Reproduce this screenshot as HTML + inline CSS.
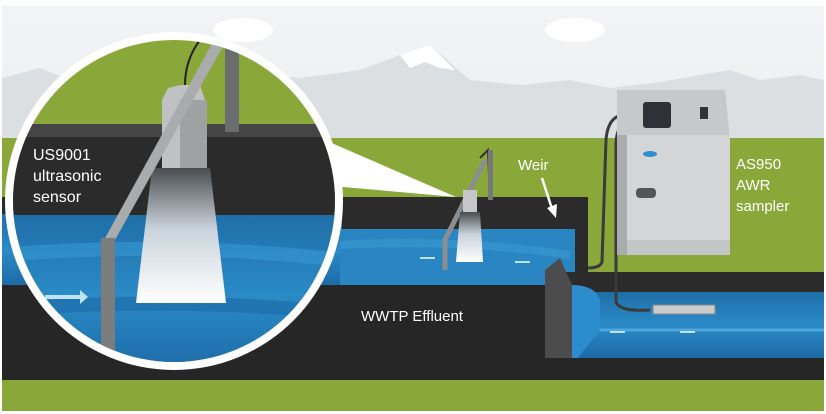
<!DOCTYPE html>
<html><head><meta charset="utf-8"><style>
html,body{margin:0;padding:0;background:#fff;}
svg{display:block;}
text{font-family:"Liberation Sans",sans-serif;fill:#fff;}
</style></head><body>
<svg width="826" height="414" viewBox="0 0 826 414" xmlns="http://www.w3.org/2000/svg">
<defs>
<linearGradient id="sky" x1="0" y1="0" x2="0" y2="1"><stop offset="0" stop-color="#f2f3f4"/><stop offset="1" stop-color="#e6e8ea"/></linearGradient>
<linearGradient id="beam" x1="0" y1="0" x2="0" y2="1"><stop offset="0" stop-color="#4a4c4e"/><stop offset="0.45" stop-color="#c9d3dc"/><stop offset="1" stop-color="#ffffff"/></linearGradient>
<linearGradient id="water" x1="0" y1="0" x2="0" y2="1"><stop offset="0" stop-color="#1f6ea8"/><stop offset="0.5" stop-color="#2a8bc6"/><stop offset="1" stop-color="#1c6aa6"/></linearGradient>
<clipPath id="circ"><circle cx="174" cy="201" r="161"/></clipPath>
</defs>
<rect x="0" y="0" width="826" height="414" fill="#fff"/>
<rect x="2" y="6" width="822" height="405" fill="url(#sky)"/>
<ellipse cx="243" cy="30" rx="30" ry="12" fill="#fff"/>
<ellipse cx="575" cy="30" rx="30" ry="12" fill="#fff"/>
<path d="M2 78 L40 68 L70 80 L120 74 L170 85 L230 70 L300 78 L360 70 L400 55 L430 45 L470 80 L520 85 L570 80 L610 88 L660 82 L700 75 L730 70 L760 80 L800 75 L824 80 L824 140 L2 140 Z" fill="#dcdfe1"/>
<path d="M400 55 L430 45 L455 70 L440 68 L425 62 L410 68 Z" fill="#fff"/>
<rect x="2" y="138" width="822" height="273" fill="#8aa83a"/>
<!-- upper channel -->
<rect x="2" y="197" width="586" height="20" fill="#2b2b2b"/>
<path d="M340 198 L588 198 L588 290 L340 290 Z" fill="#2b2b2b"/>
<rect x="2" y="214" width="340" height="72" fill="url(#water)"/>
<path d="M340 229 L575 229 L575 286 L340 286 Z" fill="#2a86c2"/>
<path d="M340 245 Q450 238 570 255" stroke="#3a9ad2" stroke-width="8" fill="none" opacity="0.6"/>
<!-- lower channel -->
<rect x="545" y="272" width="279" height="22" fill="#2b2b2b"/>
<rect x="545" y="292" width="279" height="66" fill="url(#water)"/>
<path d="M570 330 L824 330" stroke="#4aa8dd" stroke-width="3"/>
<rect x="2" y="285" width="543" height="73" fill="#262626"/>
<rect x="2" y="358" width="822" height="22" fill="#262626"/>
<path d="M545 270 L560 258 L572 285 L572 358 L545 358 Z" fill="#4c4c4c"/>
<path d="M572 285 Q595 285 600 300 L600 330 L578 358 L572 358 Z" fill="#2d8ccb"/>
<g stroke="#bfe3f5" stroke-width="2">
<line x1="420" y1="258" x2="435" y2="258"/><line x1="515" y1="262" x2="530" y2="262"/>
<line x1="610" y1="332" x2="625" y2="332"/><line x1="680" y1="332" x2="695" y2="332"/>
</g>
<!-- small sensor -->
<path d="M480 158 L488 150 L490 200" stroke="#333" stroke-width="2" fill="none"/>
<rect x="488" y="150" width="5" height="50" fill="#777"/>
<path d="M485 160 L445 240 L445 270" stroke="#8b8d8f" stroke-width="5" fill="none"/>
<rect x="463" y="190" width="14" height="22" fill="#c4c6c8"/>
<path d="M460 212 L480 212 L483 262 L456 262 Z" fill="url(#beam)"/>
<line x1="542" y1="178" x2="553" y2="212" stroke="#fff" stroke-width="2.5"/>
<path d="M547 208 L556 218 L557 204 Z" fill="#fff"/>
<path d="M625 115 Q608 115 606 140 L602 262 Q600 268 588 268" stroke="#3a3a3a" stroke-width="3" fill="none"/>
<path d="M632 122 Q616 122 616 145 L616 300 Q616 312 650 310" stroke="#3a3a3a" stroke-width="3" fill="none"/>
<rect x="653" y="305" width="62" height="9" fill="#c9cbcd" stroke="#888"/>
<!-- sampler -->
<path d="M617 90 L725 90 L730 140 L617 140 Z" fill="#c6c8ca"/>
<rect x="617" y="135" width="113" height="108" fill="#d3d5d7"/>
<rect x="617" y="240" width="113" height="15" fill="#c3c5c7"/>
<rect x="617" y="135" width="10" height="120" fill="#a9abad"/>
<rect x="643" y="102" width="28" height="26" rx="3" fill="#2f3338"/>
<rect x="700" y="107" width="8" height="12" fill="#333"/>
<ellipse cx="650" cy="154" rx="7" ry="3" fill="#2b8fd2"/>
<rect x="636" y="188" width="20" height="10" rx="4" fill="#555"/>
<!-- callout wedge -->
<path d="M320 138 L456 197 L332 186 Z" fill="#fff"/>
<circle cx="174" cy="201" r="169" fill="#fff"/>
<g clip-path="url(#circ)">
<rect x="0" y="0" width="360" height="400" fill="#8aa83a"/>
<rect x="0" y="124" width="360" height="14" fill="#454545"/>
<rect x="0" y="137" width="360" height="80" fill="#2b2b2b"/>
<rect x="0" y="215" width="360" height="160" fill="url(#water)"/>
<path d="M0 255 Q180 240 360 262" stroke="#3aa0d8" stroke-width="14" fill="none" opacity="0.5"/>
<path d="M0 310 Q180 295 360 315" stroke="#1a64a0" stroke-width="14" fill="none" opacity="0.5"/>
<rect x="225" y="40" width="14" height="92" fill="#6b6d6f"/>
<path d="M200 40 Q185 60 185 85" stroke="#222" stroke-width="2" fill="none"/>
<path d="M180 85 L200 85 L205 100 L207 168 L162 168 L162 100 L168 88 Z" fill="#bfc1c3"/>
<rect x="180" y="100" width="27" height="68" fill="#9fa1a3"/>
<path d="M152 168 L210 168 L226 303 L136 303 Z" fill="url(#beam)"/>
<path d="M214 40 L222 48 L115 240 L104 240 Z" fill="#a9abad"/>
<rect x="101" y="238" width="14" height="120" fill="#7a7c7e"/>
<path d="M45 295 L80 295 L80 290 L88 297 L80 304 L80 299 L45 299 Z" fill="#bfe3f5"/>
</g>
<text x="33" y="160" font-size="16">US9001</text>
<text x="33" y="181" font-size="16">ultrasonic</text>
<text x="33" y="202" font-size="16">sensor</text>
<text x="518" y="170" font-size="15">Weir</text>
<text x="736" y="169" font-size="15">AS950</text>
<text x="736" y="190" font-size="15">AWR</text>
<text x="736" y="211" font-size="15">sampler</text>
<text x="361" y="321" font-size="15">WWTP Effluent</text>
</svg>
</body></html>
